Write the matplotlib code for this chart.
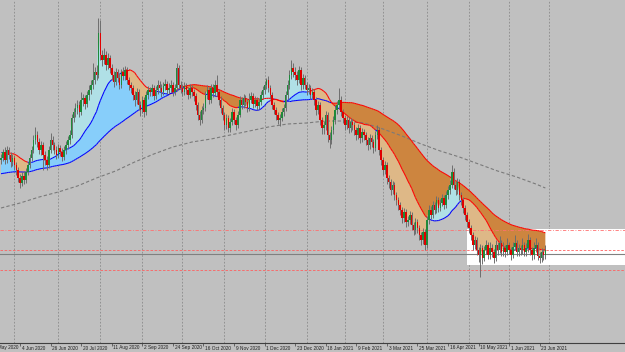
import numpy as np
import matplotlib
matplotlib.use("Agg")
import matplotlib.pyplot as plt
from matplotlib.collections import LineCollection
from matplotlib.patches import Rectangle
from matplotlib.transforms import blended_transform_factory

# daily candles, price in chart units
OPEN_FIRST = 240
CLOSE = [
    242, 248, 240, 250, 245, 238, 242, 235, 230, 222,
    217, 224, 220, 228, 235, 242, 250, 260, 265, 258,
    250, 255, 245, 240, 235, 250, 260, 255, 250, 245,
    252, 248, 243, 250, 255, 260, 265, 282, 288, 292,
    295, 288, 300, 302, 296, 305, 310, 315, 320, 328,
    325, 367, 345, 340, 345, 335, 342, 332, 325, 318,
    328, 322, 315, 328, 324, 330, 320, 315, 312, 305,
    300, 308, 295, 290, 300, 288, 305, 310, 308, 312,
    304, 310, 315, 312, 308, 314, 316, 310, 312, 315,
    308, 312, 332, 315, 312, 308, 314, 310, 305, 312,
    308, 304, 295, 285, 280, 290, 292, 305, 310, 300,
    312, 307, 315, 308, 300, 292, 285, 275, 282, 272,
    278, 288, 280, 275, 285, 300, 295, 302, 298, 292,
    300, 304, 296, 300, 294, 298, 305, 310, 315, 320,
    312, 305, 295, 290, 285, 280, 282, 288, 292, 305,
    315, 325, 332, 328, 325, 320, 330, 315, 322, 315,
    310, 312, 305, 308, 300, 290, 295, 280, 272, 275,
    285, 265, 260, 270, 280, 290, 295, 300, 288, 282,
    275, 280, 272, 278, 275, 270, 265, 272, 262, 268,
    265, 260, 255, 262, 258, 252, 265, 270, 250, 240,
    230, 235, 222, 218, 210, 215, 205, 200, 195, 190,
    182, 188, 178, 180, 185, 175, 170, 178, 172, 165,
    160, 168, 155, 180, 190, 185, 195, 190, 200, 192,
    197, 202, 195, 205, 210, 215, 228, 215, 210, 218,
    205, 200, 192, 185, 178, 172, 165, 155, 160, 150,
    145, 152, 142, 150, 155, 145, 152, 148, 142, 155,
    150, 157, 148, 152, 148, 155, 150, 145, 153, 157,
    148, 152, 150, 155, 148, 152, 160, 150, 145, 152,
    155, 144, 142, 148, 145, 150,
]
HIGH = [
    246, 251, 253, 254, 253, 248, 246, 245, 238, 233,
    226, 228, 229, 232, 238, 246, 254, 265, 273, 269,
    262, 259, 258, 249, 244, 254, 267, 264, 258, 254,
    256, 255, 252, 254, 259, 264, 270, 286, 292, 297,
    300, 299, 308, 306, 305, 309, 315, 320, 337, 333,
    335, 382, 380, 350, 352, 349, 347, 345, 336, 329,
    332, 331, 326, 331, 333, 334, 333, 323, 318, 315,
    309, 312, 311, 299, 304, 303, 309, 314, 313, 316,
    315, 314, 320, 319, 316, 318, 321, 319, 317, 320,
    318, 316, 337, 335, 319, 316, 318, 317, 313, 316,
    315, 311, 307, 298, 289, 294, 297, 309, 315, 313,
    316, 316, 320, 325, 311, 304, 295, 288, 286, 285,
    282, 292, 291, 283, 289, 304, 303, 306, 305, 301,
    307, 308, 307, 304, 303, 302, 309, 314, 319, 322,
    324, 315, 308, 298, 293, 288, 286, 292, 296, 309,
    320, 330, 340, 337, 333, 329, 334, 333, 326, 325,
    318, 316, 315, 312, 311, 303, 299, 298, 283, 279,
    289, 288, 268, 274, 284, 294, 299, 312, 304, 291,
    285, 284, 283, 282, 281, 278, 273, 276, 275, 272,
    271, 268, 263, 266, 265, 261, 269, 275, 273, 253,
    243, 239, 238, 225, 221, 219, 218, 208, 203, 198,
    193, 192, 191, 184, 189, 188, 178, 182, 181, 175,
    168, 172, 171, 184, 195, 194, 199, 198, 204, 203,
    201, 206, 205, 209, 214, 220, 235, 232, 219, 222,
    221, 208, 203, 195, 188, 181, 175, 168, 164, 163,
    153, 156, 155, 154, 160, 158, 158, 156, 151, 160,
    158, 164, 160, 158, 155, 162, 158, 153, 158, 165,
    160, 156, 155, 162, 158, 157, 166, 163, 153, 158,
    162, 158, 148, 152, 151, 155,
]
LOW = [
    236, 239, 236, 237, 241, 233, 234, 230, 225, 218,
    212, 214, 216, 217, 225, 232, 239, 247, 256, 253,
    246, 245, 230, 235, 230, 232, 247, 250, 246, 241,
    242, 244, 239, 240, 246, 251, 256, 262, 278, 283,
    286, 283, 285, 294, 291, 293, 300, 306, 311, 316,
    320, 322, 340, 334, 336, 330, 331, 327, 320, 313,
    315, 318, 311, 312, 320, 320, 316, 310, 307, 300,
    294, 296, 290, 284, 287, 283, 285, 301, 304, 304,
    300, 301, 306, 308, 303, 305, 310, 306, 306, 308,
    304, 305, 309, 311, 307, 304, 305, 306, 301, 302,
    304, 299, 290, 280, 275, 277, 286, 289, 301, 296,
    297, 303, 304, 304, 295, 287, 280, 270, 271, 268,
    268, 275, 276, 270, 272, 283, 291, 292, 294, 288,
    289, 297, 292, 293, 290, 291, 295, 301, 306, 311,
    308, 301, 291, 286, 280, 276, 274, 279, 284, 289,
    301, 311, 321, 323, 320, 315, 317, 310, 311, 311,
    305, 306, 301, 302, 295, 285, 286, 275, 266, 266,
    270, 258, 252, 256, 266, 276, 286, 291, 284, 277,
    270, 271, 267, 268, 270, 265, 260, 261, 257, 258,
    260, 255, 250, 251, 253, 247, 249, 261, 245, 235,
    225, 226, 216, 212, 205, 206, 200, 195, 190, 185,
    177, 178, 173, 174, 176, 170, 165, 166, 167, 160,
    155, 156, 150, 152, 176, 181, 182, 186, 187, 188,
    189, 194, 191, 192, 201, 206, 212, 211, 205, 206,
    200, 195, 187, 180, 173, 167, 160, 150, 151, 145,
    138, 123, 136, 139, 146, 141, 141, 143, 137, 139,
    145, 147, 144, 144, 143, 145, 146, 140, 142, 150,
    144, 144, 145, 146, 144, 144, 148, 145, 140, 141,
    148, 140, 137, 138, 140, 141,
]

# 200-day MA, read at every tenth bar
MA200_BAR = [0, 10, 20, 30, 40, 50, 60, 70, 80, 90, 100, 110, 120, 130, 140,
             150, 160, 170, 180, 190, 200, 210, 220, 230, 240, 250, 260, 270,
             280, 285]
MA200 = [192, 197, 203, 208, 214, 222, 229, 238, 246, 253, 258, 261, 265, 269,
         273, 276, 277, 279, 279, 277, 271, 264, 256, 249, 243, 236, 229, 223,
         216, 212]

# moving averages; the bars before the chart are taken at these levels
FAST_PERIOD, SLOW_PERIOD = 20, 60
FAST_PRE, SLOW_PRE = 248, 226

DATE_LABELS = ["13 May 2020", "4 Jun 2020", "26 Jun 2020", "20 Jul 2020",
               "11 Aug 2020", "2 Sep 2020", "24 Sep 2020", "16 Oct 2020",
               "9 Nov 2020", "1 Dec 2020", "23 Dec 2020", "18 Jan 2021",
               "9 Feb 2021", "3 Mar 2021", "25 Mar 2021", "16 Apr 2021",
               "10 May 2021", "1 Jun 2021", "23 Jun 2021"]
FIRST_LABEL_BAR = -6
LABEL_STEP = 16

# horizontal levels drawn on the chart
LEVEL_TOP = 170
LEVELS_RED = [150, 130]
LEVEL_GREY = 146
ZONE_BAR = 244
ZONE_LOW, ZONE_HIGH = 135, 171

GRID_BARS = [7, 30, 52, 74, 95, 117, 138, 160, 180, 200, 223, 245, 266, 287]

BG = "#c0c0c0"


def sma(values, period, pre):
    padded = np.concatenate([np.full(period - 1, pre, dtype=float), values])
    return np.convolve(padded, np.ones(period) / period, mode="valid")


def colored_line(ax, x, y, cond, c_true, c_false, z):
    pts = np.column_stack([x, y])
    segs = np.stack([pts[:-1], pts[1:]], axis=1)
    cols = [c_true if c else c_false for c in cond[1:]]
    ax.add_collection(LineCollection(segs, colors=cols, linewidths=0.75, zorder=z))


close = np.array(CLOSE, dtype=float)
high = np.array(HIGH, dtype=float)
low = np.array(LOW, dtype=float)
opn = np.concatenate([[OPEN_FIRST], close[:-1]])
x = np.arange(len(close))

fast = sma(close, FAST_PERIOD, FAST_PRE)
slow = sma(close, SLOW_PERIOD, SLOW_PRE)

fig = plt.figure(figsize=(6.25, 3.52), dpi=100, facecolor=BG)
ax = fig.add_axes([0, 9 / 352, 1, 343 / 352])
ax.set_facecolor(BG)

for g in GRID_BARS:
    ax.axvline(g, color="#8a8a8a", lw=0.6, ls=(0, (2, 2)), zorder=0.5)

ax.add_patch(Rectangle((ZONE_BAR, ZONE_LOW), 200, ZONE_HIGH - ZONE_LOW,
                       facecolor="white", edgecolor="none", zorder=1))

# band between the two averages
ax.fill_between(x, fast, slow, where=fast >= slow, interpolate=True,
                color="#87cefa", lw=0, zorder=2)
ax.fill_between(x, fast, slow, where=fast < slow, interpolate=True,
                color="#cd853f", lw=0, zorder=2)
# band between price and the fast average
ax.fill_between(x, close, fast, where=close >= fast, interpolate=True,
                color="#b0e0e6", lw=0, zorder=2)
ax.fill_between(x, close, fast, where=close < fast, interpolate=True,
                color="#deb887", lw=0, zorder=2)

colored_line(ax, x, slow, fast >= slow, "#0000ff", "#ff0000", 4)
colored_line(ax, x, fast, close >= fast, "#0000ff", "#ff0000", 4)

ax.plot(MA200_BAR, MA200, color="#7a7a7a", lw=0.8, ls=(0, (3, 2)), zorder=3)

ax.axhline(LEVEL_TOP, color="#ff7070", lw=0.6, ls=(0, (4, 2, 1, 2)), zorder=3)
for lv in LEVELS_RED:
    ax.axhline(lv, color="#ff6060", lw=0.6, ls=(0, (3, 2)), zorder=3)
ax.axhline(LEVEL_GREY, color="#808080", lw=0.8, zorder=3)

# candles
bull = close >= opn
ax.vlines(x, low, high, color="#6e6e6e", lw=0.7, zorder=5)
body_lo = np.minimum(opn, close)
body_h = np.maximum(np.abs(close - opn), 0.6)
ax.bar(x[bull], body_h[bull], bottom=body_lo[bull], width=0.8,
       color="#1f8a3a", lw=0, zorder=6)
ax.bar(x[~bull], body_h[~bull], bottom=body_lo[~bull], width=0.8,
       color="#e00000", lw=0, zorder=6)

ax.set_xlim(-1 / 1.91, 624 / 1.91)
ax.set_ylim(57, 400)
label_bars = [FIRST_LABEL_BAR + k * LABEL_STEP for k in range(len(DATE_LABELS))]
ax.set_xticks([b for b in label_bars if b >= 0])
ax.tick_params(axis="x", direction="out", length=2, width=0.5,
               color="#404040", labelbottom=False)
ax.set_yticks([])
for s in ["top", "left", "right"]:
    ax.spines[s].set_visible(False)
ax.spines["bottom"].set_color("#404040")
ax.spines["bottom"].set_linewidth(0.8)

trans = blended_transform_factory(ax.transData, ax.transAxes)
for b, lab in zip(label_bars, DATE_LABELS):
    ax.text(b + 0.9, -5 / 343, lab, transform=trans,
            fontsize=3.4, family="Liberation Sans", ha="left", va="center",
            color="#202020", clip_on=False)

fig.savefig("out.png", dpi=100, facecolor=BG)
